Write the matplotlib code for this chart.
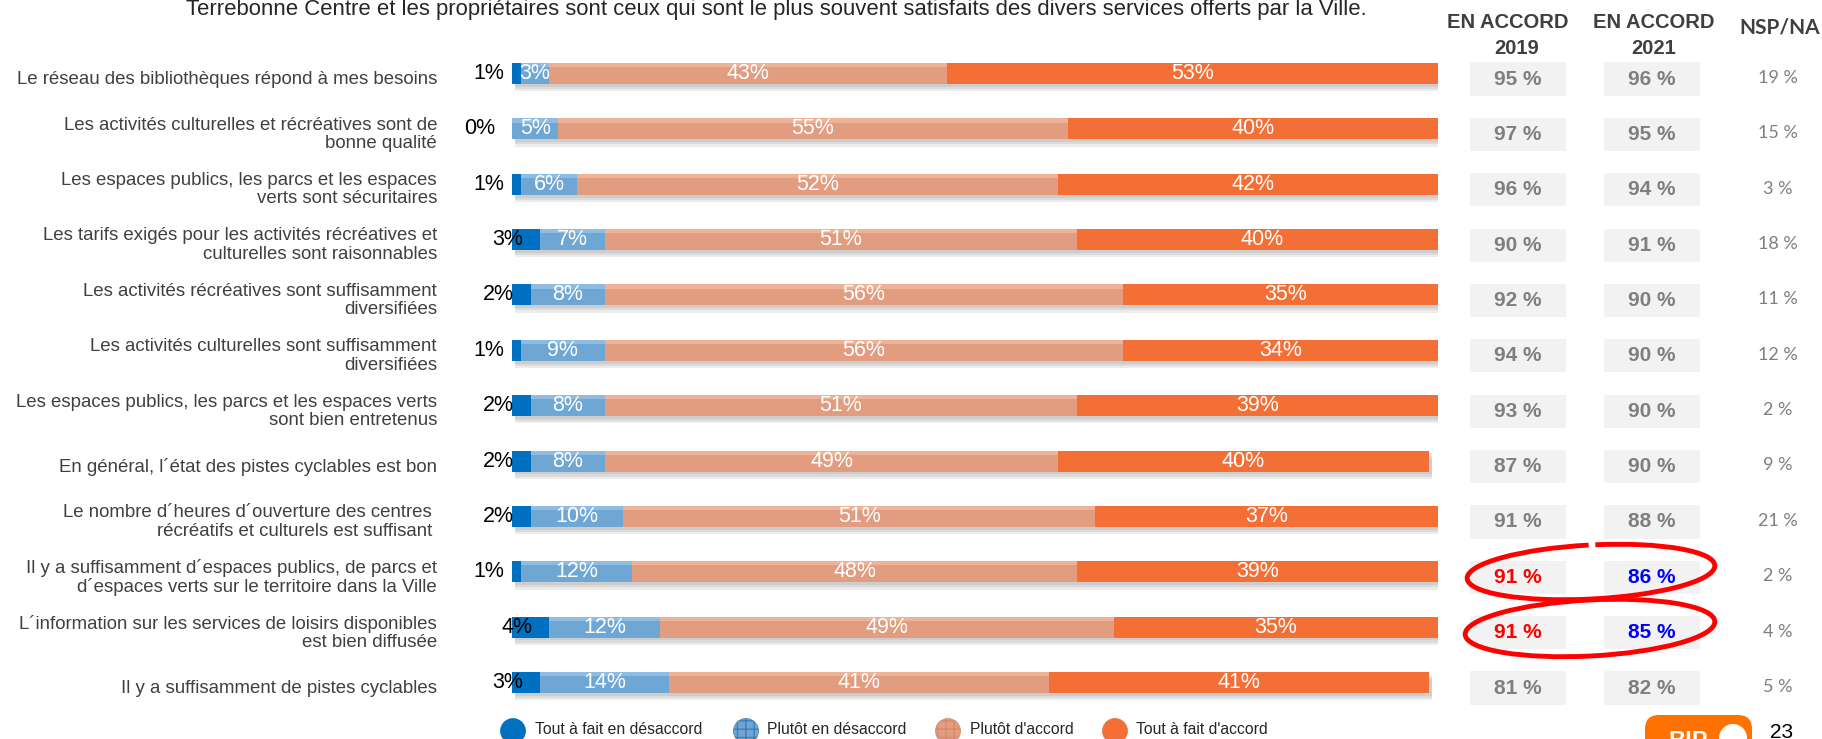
import numpy as np
import matplotlib.pyplot as plt
from matplotlib import transforms
from matplotlib.patches import Circle, Arc, Ellipse, FancyBboxPatch, Rectangle

plt.rcParams['font.family'] = ['Liberation Sans', 'DejaVu Sans']

categories = [
    "Le réseau des bibliothèques répond à mes besoins",
    "Les activités culturelles et récréatives sont de\nbonne qualité",
    "Les espaces publics, les parcs et les espaces\nverts sont sécuritaires",
    "Les tarifs exigés pour les activités récréatives et\nculturelles sont raisonnables",
    "Les activités récréatives sont suffisamment\ndiversifiées",
    "Les activités culturelles sont suffisamment\ndiversifiées",
    "Les espaces publics, les parcs et les espaces verts\nsont bien entretenus",
    "En général, l´état des pistes cyclables est bon",
    "Le nombre d´heures d´ouverture des centres \nrécréatifs et culturels est suffisant ",
    "Il y a suffisamment d´espaces publics, de parcs et\nd´espaces verts sur le territoire dans la Ville",
    "L´information sur les services de loisirs disponibles\nest bien diffusée",
    "Il y a suffisamment de pistes cyclables",
]
tout_desacc = [1, 0, 1, 3, 2, 1, 2, 2, 2, 1, 4, 3]
plutot_desacc = [3, 5, 6, 7, 8, 9, 8, 8, 10, 12, 12, 14]
plutot_acc = [43, 55, 52, 51, 56, 56, 51, 49, 51, 48, 49, 41]
tout_acc = [53, 40, 42, 40, 35, 34, 39, 40, 37, 39, 35, 41]
accord_2019 = [95, 97, 96, 90, 92, 94, 93, 87, 91, 91, 91, 81]
accord_2021 = [96, 95, 94, 91, 90, 90, 90, 90, 88, 86, 85, 82]
nsp_na = [19, 15, 3, 18, 11, 12, 2, 9, 21, 2, 4, 5]
series_names = ["Tout à fait en désaccord", "Plutôt en désaccord",
                "Plutôt d'accord", "Tout à fait d'accord"]
highlight_rows = [9, 10]

title = ("Terrebonne Centre et les propriétaires sont ceux qui sont le plus souvent "
         "satisfaits des divers services offerts par la Ville.")

colors = ['#0070C0', '#6FA7D4', '#E29D81', '#F36F35']
shine = [None, '#9CC6E8', '#F4BC9F', None]
grey_txt = '#7F7F7F'

W, H = 1822, 739
fig = plt.figure(figsize=(W / 100, H / 100), dpi=100)

n = len(categories)
idx = np.arange(n)
bar_h = 0.38

ax = fig.add_axes([512 / W, 28.8 / H, 926 / W, 664.4 / H])
ax.set_xlim(0, 100)
ax.set_ylim(n - 0.5, -0.5)
ax.axis('off')

# overlay in pixel units for headers, legend and decorations
ov = fig.add_axes([0, 0, 1, 1], zorder=5)
ov.set_xlim(0, W)
ov.set_ylim(H, 0)
ov.axis('off')

# x in pixels, y in row units
row_tf = transforms.blended_transform_factory(ov.transData, ax.transData)

segments = [np.array(s) for s in (tout_desacc, plutot_desacc, plutot_acc, tout_acc)]
totals = sum(segments)

# soft drop shadow
for off in (0.05, 0.09, 0.13):
    ax.barh(idx + off, totals, left=0.35, height=bar_h, color='#707070',
            alpha=0.13, lw=0, zorder=1)

left = np.zeros(n)
for k, (vals, c, sc) in enumerate(zip(segments, colors, shine)):
    ax.barh(idx, vals, left=left, height=bar_h, color=c, lw=0, zorder=2)
    if sc:
        ax.barh(idx - bar_h / 2 + bar_h * 0.1, vals, left=left, height=bar_h * 0.2,
                color=sc, alpha=0.7, lw=0, zorder=3)
    for i in idx:
        v = vals[i]
        if k == 0:
            ax.text(v - 3.5, i, f"{v}%", ha='center', va='center',
                    fontsize=15.5, color='black', zorder=4)
        else:
            ax.text(left[i] + v / 2, i, f"{v}%", ha='center', va='center',
                    fontsize=15.5, color='white', zorder=4)
    left += vals

# category labels
for i, lab in enumerate(categories):
    ax.text(437, i + 0.1, lab, transform=row_tf, ha='right', va='center',
            fontsize=13.4, color='#404040', linespacing=1.1)

# agreement columns
for i in idx:
    y = i + 0.1
    for x, vals in ((1518, accord_2019), (1652, accord_2021)):
        ax.add_patch(Rectangle((x - 48, y - 0.3), 96, 0.6, transform=row_tf,
                               facecolor='#F2F2F2', edgecolor='none', clip_on=False))
    c19 = '#FF0000' if i in highlight_rows else grey_txt
    c21 = '#0000FF' if i in highlight_rows else grey_txt
    ax.text(1518, y, f"{accord_2019[i]} %", transform=row_tf, ha='center',
            va='center', fontsize=15, fontweight='bold', color=c19)
    ax.text(1652, y, f"{accord_2021[i]} %", transform=row_tf, ha='center',
            va='center', fontsize=15, fontweight='bold', color=c21)
    ax.text(1778, i + 0.08, f"{nsp_na[i]} %", transform=row_tf, ha='center',
            va='center', fontsize=13, color=grey_txt, family=['Lato', 'DejaVu Sans'])

# column headers
hdr = dict(ha='center', va='center', fontsize=14.5, fontweight='bold', color='#3F3F3F')
ov.text(1508, 23, "EN ACCORD", **hdr)
ov.text(1517, 48, "2019", **hdr)
ov.text(1654, 23, "EN ACCORD", **hdr)
ov.text(1654, 48, "2021", **hdr)
ov.text(1780, 27, "NSP/NA", ha='center', va='center', fontsize=15, fontweight='bold',
        color='#3F3F3F', family=['Lato', 'DejaVu Sans'])

# title line (partly above the frame)
ov.text(186, 15, title, ha='left', va='baseline', fontsize=15.9, color='#262626')

# red hand-drawn circles
ov.add_patch(Arc((1591, 572), 248, 54, angle=-3, theta1=282, theta2=268,
                 color='#FF0000', lw=3.5))
ov.add_patch(Ellipse((1590, 628), 250, 56, angle=-3, fill=False,
                     edgecolor='#FF0000', lw=3.5))

# legend
leg_x = [513, 746, 948, 1115]
leg_tx = [535, 767, 970, 1136]
hatches = [None, '++', '++', None]
hatch_ec = [colors[0], '#3E7FB5', '#D98A6A', colors[3]]
for cx, tx, c, h, ec, name in zip(leg_x, leg_tx, colors, hatches, hatch_ec, series_names):
    ov.add_patch(Circle((cx, 731), 12.5, facecolor=c, edgecolor=ec,
                        hatch=h, lw=0.5))
    ov.text(tx, 729, name, ha='left', va='center', fontsize=11.3, color='#262626')

# logo and page number
ov.add_patch(FancyBboxPatch((1657, 727), 83, 30, boxstyle='round,pad=12,rounding_size=14',
                            facecolor='#FF7200', edgecolor='none'))
ov.text(1688, 741, "BIP", ha='center', va='center', fontsize=17, fontweight='bold',
        color='white')
ov.add_patch(Circle((1733, 738), 14, facecolor='white', edgecolor='none'))
ov.text(1782, 733, "23", ha='center', va='center', fontsize=15, color='black')

fig.savefig('out.png', dpi=100)
